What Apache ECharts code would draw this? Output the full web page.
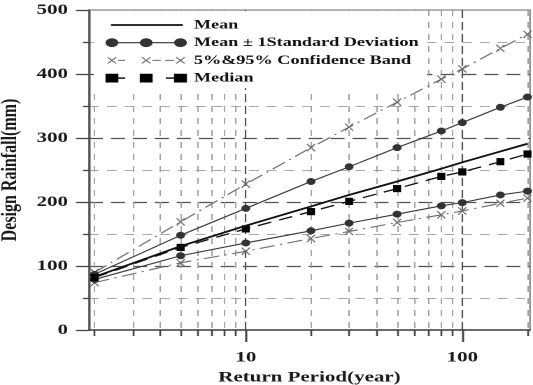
<!DOCTYPE html>
<html>
<head>
<meta charset="utf-8">
<script src="https://cdn.jsdelivr.net/npm/echarts@6/dist/echarts.min.js"></script>
<style>
  html, body { margin: 0; padding: 0; background: #fff; }
  #wrap { width: 533px; height: 385px; overflow: hidden; position: relative; }
  #chart { width: 381px; height: 385px; transform: scaleX(1.39895); transform-origin: 0 0; }
</style>
</head>
<body>
<div id="wrap"><div id="chart"></div></div>
<script>
// ---- data ----
const returnPeriods = [2, 5, 10, 20, 30, 50, 80, 100, 150, 200];
const meanVals   = [83, 131, 163, 193, 211, 232, 252, 262, 279, 291];
const sdUpper    = [87, 148, 190, 232, 255, 285, 311, 324, 348, 364];
const sdLower    = [79, 116, 136, 155, 167, 181, 194, 199, 211, 217];
const ciUpper    = [90, 169, 228, 285, 317, 356, 392, 408, 440, 462];
const ciLower    = [74, 105, 123, 143, 154, 168, 180, 186, 198, 206];
const medianVals = [82, 129, 158, 185, 201, 221, 240, 247, 263, 275];
const majorXTicks = [10, 100];
const minorXTicks = [2, 3, 4, 5, 6, 7, 8, 9, 20, 30, 40, 50, 60, 70, 80, 90, 200];
const legendNames = ['Mean', 'Mean \u00B1 1Standard Deviation', '5%&95% Confidence Band', 'Median'];

const pairs = v => returnPeriods.map((t, i) => [t, v[i]]);
const FONT = "'Liberation Serif', 'DejaVu Serif', serif";

// ---- legend icon paths (IW x IH box) ----
const IW = 58.6, IH = 14, CY = 7;
const anchors = 'M0 0L0.01 0L0 0.01Z M' + IW + ' ' + IH + 'L' + (IW - 0.01) + ' ' + IH + 'L' + IW + ' ' + (IH - 0.01) + 'Z ';
function rect(x1, y1, x2, y2) { return 'M' + x1 + ' ' + y1 + 'L' + x2 + ' ' + y1 + 'L' + x2 + ' ' + y2 + 'L' + x1 + ' ' + y2 + 'Z '; }
function ell(cx, cy, rx, ry) {
  let s = '';
  for (let k = 0; k < 20; k++) {
    const a = k / 20 * Math.PI * 2;
    s += (k === 0 ? 'M' : 'L') + (cx + rx * Math.cos(a)).toFixed(2) + ' ' + (cy + ry * Math.sin(a)).toFixed(2);
  }
  return s + 'Z ';
}
function xmark(cx, cy, hw, hh) {
  const p = [[0,1],[1,0],[5,4],[9,0],[10,1],[6,5],[10,9],[9,10],[5,6],[1,10],[0,9],[4,5]];
  let s = '';
  p.forEach((q, k) => {
    s += (k === 0 ? 'M' : 'L') + (cx - hw + q[0] / 10 * 2 * hw).toFixed(2) + ' ' + (cy - hh + q[1] / 10 * 2 * hh).toFixed(2);
  });
  return s + 'Z ';
}
const mk = [5, 29.5, 54];
const iconMean = 'path://' + anchors + rect(4.3, 6.1, 55.7, 7.9);
const iconSD = 'path://' + anchors + rect(5, 6.4, 54, 7.6) + mk.map(c => ell(c, CY, 4.6, 4.4)).join('');
const iconCI = 'path://' + anchors + mk.map(c => xmark(c, CY, 3.4, 3.4)).join('') + rect(9.5, 6.5, 14.5, 7.5) + rect(34, 6.5, 40, 7.5) + rect(43, 6.5, 49.5, 7.5);
const iconMed = 'path://' + anchors + mk.map(c => rect(c - 4.6, CY - 4.4, c + 4.6, CY + 4.4)).join('') + rect(9.5, 6.3, 14.5, 7.7) + rect(43.5, 6.3, 49.5, 7.7);
const xSymbol = 'path://M0 1L1 0L5 4L9 0L10 1L6 5L10 9L9 10L5 6L1 10L0 9L4 5Z';

const chart = echarts.init(document.getElementById('chart'), null, { renderer: 'canvas', devicePixelRatio: 2 });

const labelStyle = { fontFamily: FONT, fontWeight: 'bold', fontSize: 15, color: '#1a1a1a' };

const option = {
  animation: false,
  backgroundColor: '#fff',
  grid: { left: 63.6, right: 2.15, top: 10, bottom: 55, outerBoundsMode: 'none', containLabel: false,
          show: true, borderColor: '#888', borderWidth: 1.2, backgroundColor: '#fff' },
  legend: {
    left: 67, top: 11, orient: 'vertical',
    padding: [7, 6, 3, 8],
    itemWidth: IW, itemHeight: IH, itemGap: 3.7,
    symbolKeepAspect: false,
    backgroundColor: '#fff',
    selectedMode: false,
    itemStyle: { borderWidth: 0 },
    textStyle: { fontFamily: FONT, fontWeight: 'bold', fontSize: 13, color: '#111' },
    data: [
      { name: legendNames[0], icon: iconMean },
      { name: legendNames[1], icon: iconSD },
      { name: legendNames[2], icon: iconCI },
      { name: legendNames[3], icon: iconMed }
    ]
  },
  xAxis: [
    {
      type: 'log', logBase: 10, min: 1.886, max: 205.5, position: 'bottom',
      name: 'Return Period(year)', nameLocation: 'middle', nameGap: 32,
      nameTextStyle: { fontFamily: FONT, fontWeight: 'bold', fontSize: 15, color: '#1a1a1a' },
      axisLine: { show: true, onZero: false, lineStyle: { color: '#444', width: 1.6 } },
      axisTick: { show: true, inside: false, length: 12, customValues: majorXTicks, lineStyle: { color: '#444', width: 1.5 } },
      axisLabel: Object.assign({ customValues: majorXTicks, margin: 20 }, labelStyle),
      splitLine: { show: true, lineStyle: { color: '#505050', width: 1.1, type: [8, 4] } }
    },
    {
      type: 'log', logBase: 10, min: 1.886, max: 205.5, position: 'bottom',
      axisLine: { show: false, onZero: false },
      axisTick: { show: true, inside: false, length: 6, customValues: minorXTicks, lineStyle: { color: '#444', width: 1.3 } },
      axisLabel: { show: false },
      splitLine: { show: true, lineStyle: { color: '#9a9a9a', width: 0.9, type: [6, 6] } }
    }
  ],
  yAxis: {
    type: 'value', min: 0, max: 500, interval: 100,
    name: 'Design Rainfall(mm)', nameLocation: 'middle', nameGap: 46,
    nameTextStyle: { fontFamily: FONT, fontWeight: 'bold', fontSize: 16, color: '#1a1a1a' },
    axisLine: { show: true, lineStyle: { color: '#555', width: 1.5 } },
    axisTick: { show: true, inside: false, length: 9.3, lineStyle: { color: '#444', width: 1.3 } },
    minorTick: { show: true, splitNumber: 2, length: 4.3, lineStyle: { color: '#444', width: 1.3 } },
    axisLabel: Object.assign({ margin: 15 }, labelStyle),
    splitLine: { show: true, showMinLine: false, showMaxLine: false, lineStyle: { color: '#505050', width: 1.2, type: [10, 5.7] } },
    minorSplitLine: { show: true, lineStyle: { color: '#a8a8a8', width: 1, type: [7, 5.7] } }
  },
  series: [
    {
      name: legendNames[0], type: 'line', xAxisIndex: 0, data: pairs(meanVals),
      symbol: 'none', showSymbol: false, z: 6,
      lineStyle: { color: '#111', width: 1.8 }, itemStyle: { color: '#111' }
    },
    {
      name: legendNames[1], type: 'line', xAxisIndex: 0, data: pairs(sdUpper),
      symbol: 'circle', symbolSize: [6.4, 7], z: 5,
      lineStyle: { color: '#3a3a3a', width: 1.1 }, itemStyle: { color: '#333', borderWidth: 0 }
    },
    {
      name: legendNames[1], type: 'line', xAxisIndex: 0, data: pairs(sdLower),
      symbol: 'circle', symbolSize: [6.4, 7], z: 5,
      lineStyle: { color: '#3a3a3a', width: 1.1 }, itemStyle: { color: '#333', borderWidth: 0 }
    },
    {
      name: legendNames[2], type: 'line', xAxisIndex: 0, data: pairs(ciUpper),
      symbol: xSymbol, symbolSize: [6.4, 8], z: 4,
      lineStyle: { color: '#6e6e6e', width: 1.1, type: [11, 4, 1.5, 4] }, itemStyle: { color: '#6e6e6e', borderWidth: 0 }
    },
    {
      name: legendNames[2], type: 'line', xAxisIndex: 0, data: pairs(ciLower),
      symbol: xSymbol, symbolSize: [6.4, 8], z: 4,
      lineStyle: { color: '#6e6e6e', width: 1.1, type: [11, 4, 1.5, 4] }, itemStyle: { color: '#6e6e6e', borderWidth: 0 }
    },
    {
      name: legendNames[3], type: 'line', xAxisIndex: 0, data: pairs(medianVals),
      symbol: 'rect', symbolSize: [5.7, 7.2], z: 5,
      lineStyle: { color: '#111', width: 1.3, type: [10, 6] }, itemStyle: { color: '#000', borderWidth: 0 }
    }
  ]
};
chart.setOption(option);
</script>
</body>
</html>
